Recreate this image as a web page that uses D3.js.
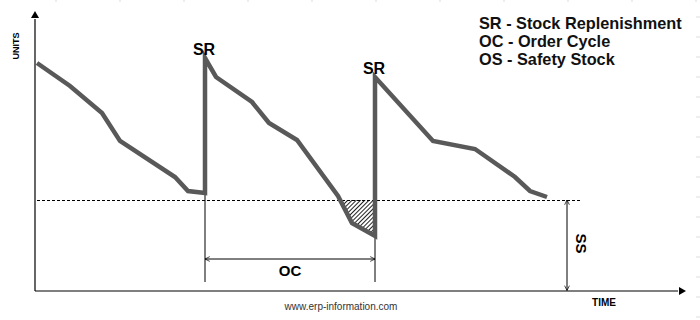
<!DOCTYPE html>
<html>
<head>
<meta charset="utf-8">
<script src="https://cdn.jsdelivr.net/npm/d3@7"></script>
<style>
  body { margin: 0; background: #fff; }
  text { font-family: "Liberation Sans", Arial, sans-serif; }
</style>
</head>
<body>
<div id="chart"></div>
<script>
// inventory level over time (arbitrary time / unit scale)
var cycle1Time  = [2, 35, 67, 85, 140, 153, 170];
var cycle1Units = [228, 205, 178, 150, 114, 100, 98];
var cycle2Time  = [170, 181, 217, 234, 262, 303, 317, 340];
var cycle2Units = [233, 214, 189, 168, 151, 95, 68, 55];
var cycle3Time  = [340, 398, 440, 480, 495, 512];
var cycle3Units = [214, 150, 142, 114, 100, 94];

var safetyStock = 91;          // dashed SS level
var ssLineEnd = 547;           // where the dashed line stops
var replenishTimes = [170, 340];
var ocLevel = 32;
var ssArrowTime = 532;

var legendLines = ["SR - Stock Replenishment", "OC - Order Cycle", "OS - Safety Stock"];

var W = 700, H = 320;
var margin = {left: 35, bottom: 29, top: 11};

var x = d3.scaleLinear().domain([0, 650]).range([margin.left, 685]);
var y = d3.scaleLinear().domain([0, 280]).range([H - margin.bottom, margin.top]);

var svg = d3.select("#chart").append("svg")
  .attr("width", W).attr("height", H);

var defs = svg.append("defs");
// hatch for the stock-out area
var pat = defs.append("pattern")
  .attr("id", "hatch").attr("patternUnits", "userSpaceOnUse")
  .attr("width", 3).attr("height", 3)
  .attr("patternTransform", "rotate(45)");
pat.append("line").attr("x1", 0.5).attr("y1", 0).attr("x2", 0.5).attr("y2", 3)
  .attr("stroke", "#222").attr("stroke-width", 1);

// open chevron arrowhead
defs.append("marker").attr("id", "chev")
  .attr("viewBox", "0 0 10 10").attr("refX", 9).attr("refY", 5)
  .attr("markerWidth", 6).attr("markerHeight", 6).attr("markerUnits", "userSpaceOnUse")
  .attr("orient", "auto-start-reverse")
  .append("path").attr("d", "M1,1 L9,5 L1,9").attr("fill", "none")
  .attr("stroke", "#000").attr("stroke-width", 1.2);

// faint leftover sheet grid marks
svg.selectAll(".gtop").data(d3.range(56, 700, 64)).enter().append("line")
  .attr("x1", d => d).attr("x2", d => d).attr("y1", 0).attr("y2", 2)
  .attr("stroke", "#ddd");
svg.selectAll(".gright").data(d3.range(17, 320, 20)).enter().append("line")
  .attr("x1", 696).attr("x2", 700).attr("y1", d => d).attr("y2", d => d)
  .attr("stroke", "#ddd");

// hatched area below safety stock in cycle 2
var pts = cycle2Time.map((t, i) => [t, cycle2Units[i]]);
var area = [];
for (var i = 1; i < pts.length; i++) {
  var a = pts[i - 1], b = pts[i];
  if (a[1] >= safetyStock && b[1] < safetyStock) {
    var t = a[0] + (a[1] - safetyStock) / (a[1] - b[1]) * (b[0] - a[0]);
    area.push([t, safetyStock]);
  }
  if (b[1] < safetyStock) area.push(b);
}
area.push([pts[pts.length - 1][0], safetyStock]);
svg.append("path")
  .attr("d", d3.line().x(d => x(d[0])).y(d => y(d[1]))(area) + "Z")
  .attr("fill", "url(#hatch)");

// safety stock dashed line
svg.append("line")
  .attr("x1", x(2)).attr("x2", x(ssLineEnd))
  .attr("y1", y(safetyStock) + 0.5).attr("y2", y(safetyStock) + 0.5)
  .attr("stroke", "#000").attr("stroke-width", 1).attr("stroke-dasharray", "3,2");

// OC bracket lines
var ocTops = [cycle1Units[cycle1Units.length - 1], cycle2Units[cycle2Units.length - 1]];
replenishTimes.forEach(function(t, i) {
  svg.append("line")
    .attr("x1", x(t)).attr("x2", x(t))
    .attr("y1", y(ocTops[i])).attr("y2", y(9))
    .attr("stroke", "#000").attr("stroke-width", 1);
});
svg.append("line")
  .attr("x1", x(replenishTimes[0])).attr("x2", x(replenishTimes[1]))
  .attr("y1", y(ocLevel)).attr("y2", y(ocLevel))
  .attr("stroke", "#000").attr("stroke-width", 1)
  .attr("marker-start", "url(#chev)").attr("marker-end", "url(#chev)");
svg.append("text")
  .attr("x", x((replenishTimes[0] + replenishTimes[1]) / 2)).attr("y", y(ocLevel) + 17)
  .attr("text-anchor", "middle").attr("font-weight", "bold").attr("font-size", 15)
  .text("OC");

// SS arrow
svg.append("line")
  .attr("x1", x(ssArrowTime)).attr("x2", x(ssArrowTime))
  .attr("y1", y(safetyStock)).attr("y2", y(0.5))
  .attr("stroke", "#000").attr("stroke-width", 1)
  .attr("marker-start", "url(#chev)").attr("marker-end", "url(#chev)");
svg.append("text")
  .attr("transform", "translate(" + (x(ssArrowTime) + 9) + "," + y(safetyStock / 2 + 2) + ") rotate(90)")
  .attr("text-anchor", "middle").attr("font-weight", "bold").attr("font-size", 15)
  .text("SS");

// inventory line: three cycles joined by vertical replenishments
var all = [];
[[cycle1Time, cycle1Units], [cycle2Time, cycle2Units], [cycle3Time, cycle3Units]].forEach(function(c) {
  c[0].forEach((t, i) => all.push([t, c[1][i]]));
});
svg.append("path")
  .attr("d", d3.line().x(d => x(d[0])).y(d => y(d[1]))(all))
  .attr("fill", "none").attr("stroke", "#595959").attr("stroke-width", 4.5)
  .attr("stroke-linejoin", "miter");

// SR labels above peaks
var peaks = [cycle2Units[0], cycle3Units[0]];
replenishTimes.forEach(function(t, i) {
  svg.append("text")
    .attr("x", x(t) - 1).attr("y", y(peaks[i]) - 3)
    .attr("text-anchor", "middle").attr("font-weight", "bold").attr("font-size", 16)
    .text("SR");
});

// axes with filled arrow heads
svg.append("line").attr("x1", x(0)).attr("x2", x(0)).attr("y1", y(0)).attr("y2", y(272))
  .attr("stroke", "#000").attr("stroke-width", 1.2);
svg.append("path")
  .attr("d", "M" + x(0) + "," + y(280) + " l-4,7 l8,0 Z").attr("fill", "#000");
svg.append("line").attr("x1", x(0)).attr("x2", x(643)).attr("y1", y(0)).attr("y2", y(0))
  .attr("stroke", "#000").attr("stroke-width", 1.2);
svg.append("path")
  .attr("d", "M" + x(651) + "," + y(0) + " l-7,-4 l0,8 Z").attr("fill", "#000");

svg.append("text")
  .attr("transform", "translate(19,46) rotate(-90)")
  .attr("text-anchor", "middle").attr("font-weight", "bold").attr("font-size", 9)
  .text("UNITS");
svg.append("text")
  .attr("x", 604).attr("y", 306)
  .attr("text-anchor", "middle").attr("font-weight", "bold").attr("font-size", 10)
  .text("TIME");

// legend
svg.selectAll(".legend").data(legendLines).enter().append("text")
  .attr("x", 479).attr("y", (d, i) => 29 + i * 18)
  .attr("font-weight", "bold").attr("font-size", 16.3).attr("fill", "#111")
  .text(d => d);

svg.append("text")
  .attr("x", 341).attr("y", 310)
  .attr("text-anchor", "middle").attr("font-size", 10).attr("fill", "#333")
  .text("www.erp-information.com");
</script>
</body>
</html>
